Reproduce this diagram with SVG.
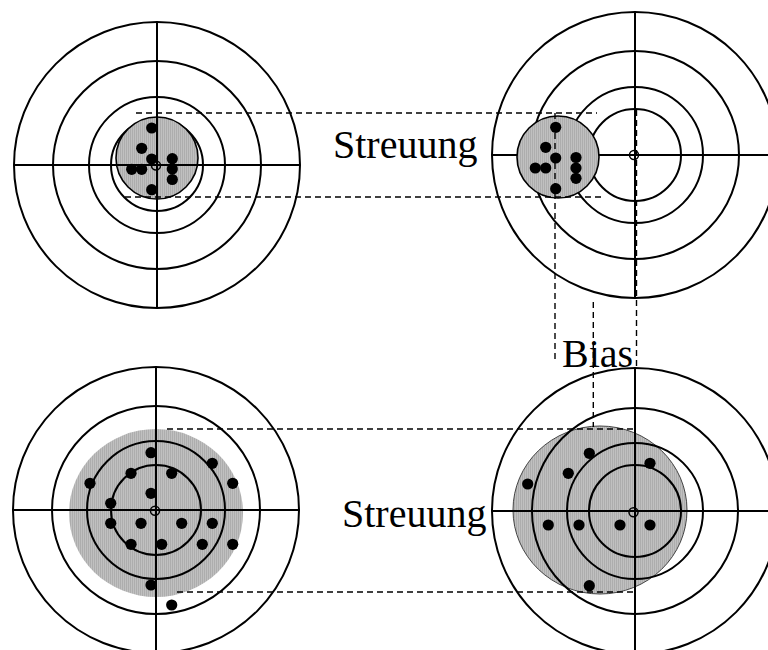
<svg xmlns="http://www.w3.org/2000/svg" width="768" height="650" viewBox="0 0 768 650">
<defs>
<pattern id="hatch" width="2" height="4" patternUnits="userSpaceOnUse">
<rect width="2" height="4" fill="#c0c0c0"/>
<rect width="1" height="4" fill="#adadad"/>
</pattern>
<style>
.ring{fill:none;stroke:#000;stroke-width:2}
.axis{stroke:#000;stroke-width:2}
.shot{fill:url(#hatch);stroke:#000;stroke-width:1.6}
.shotb{fill:url(#hatch);stroke:#444;stroke-width:1}
.shotn{fill:url(#hatch);stroke:none}
.dot{fill:#000}
.ctr{fill:none;stroke:#000;stroke-width:1.5}
.dash{fill:none;stroke:#000;stroke-width:1.4;stroke-dasharray:6 4}
.lbl{font-family:"Liberation Serif","Times New Roman",serif;font-size:40px;fill:#000}
</style>
</defs>
<rect width="768" height="650" fill="#fff"/>

<g id="target-tl">
<circle class="ring" cx="157" cy="165" r="143"/>
<circle class="ring" cx="157" cy="165" r="104"/>
<circle class="ring" cx="157" cy="165" r="68"/>
<circle class="ring" cx="157" cy="165" r="46"/>
<circle class="shot" cx="157" cy="158" r="41"/>
<line class="axis" x1="157" y1="21" x2="157" y2="309"/>
<line class="axis" x1="14" y1="165" x2="300" y2="165"/>
<g class="dot">
<circle cx="151.7" cy="128" r="5.6"/>
<circle cx="141.7" cy="148.3" r="5.6"/>
<circle cx="151.7" cy="159" r="5.6"/>
<circle cx="131.7" cy="169.3" r="5.6"/>
<circle cx="141.7" cy="169.3" r="5.6"/>
<circle cx="172.3" cy="158.7" r="5.6"/>
<circle cx="172.3" cy="169" r="5.6"/>
<circle cx="172.3" cy="179.5" r="5.6"/>
<circle cx="151.7" cy="189.7" r="5.6"/>
</g>
<circle class="ctr" cx="156" cy="165.5" r="4.5"/>
</g>

<g id="target-tr">
<circle class="ring" cx="635" cy="155" r="143"/>
<circle class="ring" cx="635" cy="155" r="104"/>
<circle class="ring" cx="635" cy="155" r="68"/>
<circle class="ring" cx="635" cy="155" r="46"/>
<line class="axis" x1="635" y1="12" x2="635" y2="298"/>
<line class="axis" x1="492" y1="155" x2="768" y2="155"/>
<circle class="shot" cx="558" cy="157" r="41"/>
<g class="dot">
<circle cx="555.7" cy="127.3" r="5.6"/>
<circle cx="545.7" cy="147.3" r="5.6"/>
<circle cx="555.7" cy="158" r="5.6"/>
<circle cx="535.3" cy="168" r="5.6"/>
<circle cx="545.7" cy="168" r="5.6"/>
<circle cx="576" cy="157.5" r="5.6"/>
<circle cx="576" cy="168" r="5.6"/>
<circle cx="576" cy="178.3" r="5.6"/>
<circle cx="555.7" cy="188.7" r="5.6"/>
</g>
<circle class="ctr" cx="634" cy="155" r="4.5"/>
</g>

<g id="target-bl">
<ellipse class="shotn" cx="156" cy="513" rx="87" ry="84"/>
<circle class="ring" cx="156" cy="510" r="143"/>
<circle class="ring" cx="156" cy="510" r="104"/>
<circle class="ring" cx="156" cy="510" r="69"/>
<circle class="ring" cx="156" cy="510" r="45"/>
<line class="axis" x1="156" y1="367" x2="156" y2="650"/>
<line class="axis" x1="13" y1="510" x2="300" y2="510"/>
<g class="dot">
<circle cx="151" cy="452.7" r="5.6"/>
<circle cx="212.3" cy="463.3" r="5.6"/>
<circle cx="131" cy="473.3" r="5.6"/>
<circle cx="171.7" cy="473.3" r="5.6"/>
<circle cx="90" cy="483.3" r="5.6"/>
<circle cx="232.7" cy="483.3" r="5.6"/>
<circle cx="151" cy="493.3" r="5.6"/>
<circle cx="110.7" cy="503.3" r="5.6"/>
<circle cx="110.7" cy="523.3" r="5.6"/>
<circle cx="141" cy="523.3" r="5.6"/>
<circle cx="181.7" cy="523.3" r="5.6"/>
<circle cx="212.3" cy="523.3" r="5.6"/>
<circle cx="131" cy="544.3" r="5.6"/>
<circle cx="161.7" cy="544.3" r="5.6"/>
<circle cx="202.3" cy="544.3" r="5.6"/>
<circle cx="232.7" cy="544.3" r="5.6"/>
<circle cx="151" cy="585" r="5.6"/>
<circle cx="171.7" cy="605" r="5.6"/>
</g>
<circle class="ctr" cx="155" cy="510.7" r="4.5"/>
</g>

<g id="target-br">
<ellipse class="shotb" cx="600" cy="510" rx="87" ry="84"/>
<circle class="ring" cx="635" cy="511" r="143"/>
<circle class="ring" cx="635" cy="511" r="103"/>
<circle class="ring" cx="635" cy="511" r="68"/>
<circle class="ring" cx="635" cy="511" r="46"/>
<line class="axis" x1="635" y1="369" x2="635" y2="650"/>
<line class="axis" x1="492" y1="511" x2="768" y2="511"/>
<g class="dot">
<circle cx="589.3" cy="453.3" r="5.6"/>
<circle cx="650" cy="463.3" r="5.6"/>
<circle cx="568.3" cy="473.3" r="5.6"/>
<circle cx="527.7" cy="484" r="5.6"/>
<circle cx="548.3" cy="525" r="5.6"/>
<circle cx="579" cy="525" r="5.6"/>
<circle cx="620" cy="525" r="5.6"/>
<circle cx="650" cy="525" r="5.6"/>
<circle cx="589.3" cy="585.7" r="5.6"/>
</g>
<circle class="ctr" cx="633.5" cy="512.3" r="4.5"/>
</g>

<g id="connectors">
<line class="dash" x1="136" y1="113" x2="597" y2="113"/>
<line class="dash" x1="125" y1="197" x2="603" y2="197"/>
<line class="dash" x1="167" y1="429" x2="635" y2="429"/>
<line class="dash" x1="177" y1="592" x2="633" y2="592"/>
<line class="dash" x1="555" y1="113" x2="555" y2="362"/>
<line class="dash" x1="593.3" y1="302" x2="593.3" y2="427"/>
<line class="dash" x1="636.5" y1="110" x2="636.5" y2="369"/>
</g>

<g id="labels">
<text class="lbl" x="333" y="158">Streuung</text>
<text class="lbl" x="342" y="527">Streuung</text>
<text class="lbl" x="562" y="367">Bias</text>
</g>
</svg>
